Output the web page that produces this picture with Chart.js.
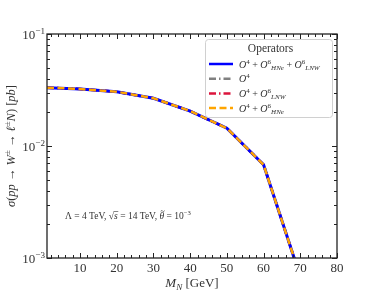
<!DOCTYPE html>
<html>
<head>
<meta charset="utf-8">
<script src="https://cdn.jsdelivr.net/npm/chart.js@4.4.1/dist/chart.umd.min.js"></script>
<style>
  html, body { margin: 0; padding: 0; background: #fff; }
  #wrap { width: 374px; height: 291px; }
</style>
</head>
<body>
<div id="wrap"><canvas id="xsecChart" width="374" height="291"></canvas></div>
<script>
// masses (GeV) and cross sections (pb)
const massN = [1, 10, 20, 30, 40, 50, 60, 70];
const sigmaFull = [0.0332, 0.0323, 0.0305, 0.0267, 0.0205, 0.0144, 0.0068, 0.00068];
const sigmaO4 = [0.0332, 0.0323, 0.0305, 0.0267, 0.0205, 0.0144, 0.0068, 0.00068];
const sigmaLNW = [0.0332, 0.0323, 0.0305, 0.0267, 0.0205, 0.0144, 0.0068, 0.00068];
const sigmaHNe = [0.0332, 0.0323, 0.0305, 0.0267, 0.0205, 0.0144, 0.0068, 0.00068];
const xTicks = [10, 20, 30, 40, 50, 60, 70, 80];
const yTicks = [0.001, 0.01, 0.1];
const yTickExp = ['−3', '−2', '−1'];

const SERIF = '"Liberation Serif", "DejaVu Serif", serif';
const TXT = '#333';

// draw text made of pieces: [text, kind], kind = r | i | sup | supi | sub | subi
function fontFor(kind, size) {
    const small = kind.startsWith('sup') || kind.startsWith('sub');
    const it = kind === 'i' || kind === 'supi' || kind === 'subi';
    return (it ? 'italic ' : '') + (small ? size * 0.7 : size) + 'px ' + SERIF;
}
function richWidth(ctx, parts, size) {
    let w = 0;
    parts.forEach(p => {
        ctx.font = fontFor(p[1], size);
        w += ctx.measureText(p[0]).width;
    });
    return w;
}
function drawRich(ctx, parts, x, y, size, align) {
    let w = richWidth(ctx, parts, size);
    let cx = align === 'center' ? x - w / 2 : (align === 'right' ? x - w : x);
    ctx.textAlign = 'left';
    ctx.textBaseline = 'alphabetic';
    const pos = [];
    parts.forEach(p => {
        ctx.font = fontFor(p[1], size);
        let dy = 0;
        if (p[1].startsWith('sup')) dy = -size * 0.38;
        if (p[1].startsWith('sub')) dy = size * 0.22;
        ctx.fillText(p[0], cx, y + dy);
        const pw = ctx.measureText(p[0]).width;
        pos.push([cx, pw]);
        cx += pw;
    });
    return pos;
}

const legendItems = [
    { color: '#0000ff', dash: [], parts: [['O', 'i'], ['4', 'sup'], [' + ', 'r'], ['O', 'i'], ['6', 'sup'], ['HNe', 'subi'], [' + ', 'r'], ['O', 'i'], ['6', 'sup'], ['LNW', 'subi']] },
    { color: '#808080', dash: [7, 3, 1.5, 3], parts: [['O', 'i'], ['4', 'sup']] },
    { color: '#dc143c', dash: [7, 3, 1.5, 3], parts: [['O', 'i'], ['4', 'sup'], [' + ', 'r'], ['O', 'i'], ['6', 'sup'], ['LNW', 'subi']] },
    { color: '#ffa500', dash: [7, 3.5], parts: [['O', 'i'], ['4', 'sup'], [' + ', 'r'], ['O', 'i'], ['6', 'sup'], ['HNe', 'subi']] }
];

const decorPlugin = {
    id: 'decor',
    afterDraw(chart) {
        const ctx = chart.ctx;
        const a = chart.chartArea;
        const xs = chart.scales.x, ys = chart.scales.y;
        ctx.save();
        ctx.strokeStyle = '#222';
        ctx.lineWidth = 1.3;
        ctx.strokeRect(a.left, a.top, a.right - a.left, a.bottom - a.top);

        // inward ticks, mirrored on all sides
        ctx.lineWidth = 1;
        ctx.beginPath();
        for (let v = 2; v <= 80; v += 2) {
            const px = Math.round(xs.getPixelForValue(v)) + 0.5;
            const len = v % 10 === 0 ? 5 : 3;
            ctx.moveTo(px, a.bottom); ctx.lineTo(px, a.bottom - len);
            ctx.moveTo(px, a.top); ctx.lineTo(px, a.top + len);
        }
        [0.001, 0.01].forEach(dec => {
            for (let m = 1; m <= 10; m++) {
                const v = dec * m;
                const py = Math.round(ys.getPixelForValue(v)) + 0.5;
                const len = (m === 1 || m === 10) ? 5 : 3;
                ctx.moveTo(a.left, py); ctx.lineTo(a.left + len, py);
                ctx.moveTo(a.right, py); ctx.lineTo(a.right - len, py);
            }
        });
        ctx.stroke();

        // y tick labels 10^n
        ctx.fillStyle = TXT;
        yTicks.forEach((v, i) => {
            const py = ys.getPixelForValue(v);
            drawRich(ctx, [['10', 'r'], [yTickExp[i], 'sup']], a.left - 2, py + 4.5, 13, 'right');
        });

        // axis titles
        drawRich(ctx, [['M', 'i'], ['N', 'subi'], [' [GeV]', 'r']], (a.left + a.right) / 2, 287, 13, 'center');
        ctx.save();
        ctx.translate(15, (a.top + a.bottom) / 2);
        ctx.rotate(-Math.PI / 2);
        drawRich(ctx, [['σ', 'i'], ['(', 'r'], ['pp', 'i'], [' → ', 'r'], ['W', 'i'], ['±', 'sup'], [' → ', 'r'], ['ℓ', 'i'], ['±', 'sup'], ['N', 'i'], [') [', 'r'], ['pb', 'i'], [']', 'r']], 0, 0, 12.5, 'center');
        ctx.restore();

        // benchmark annotation
        const ann = [['Λ = 4 TeV, √', 'r'], ['s', 'i'], [' = 14 TeV, ', 'r'], ['θ', 'i'], [' = 10', 'r'], ['−3', 'sup']];
        const ap = drawRich(ctx, ann, 65, 219, 9.5, 'left');
        ctx.beginPath();
        ctx.lineWidth = 0.6;
        ctx.strokeStyle = TXT;
        ctx.moveTo(ap[1][0] - 0.5, 211.5); ctx.lineTo(ap[1][0] + ap[1][1] + 0.5, 211.5);
        ctx.stroke();
        ctx.font = fontFor('r', 8);
        ctx.textAlign = 'center';
        ctx.fillText('~', ap[3][0] + ap[3][1] / 2 + 0.8, 213.5);

        // legend box
        const bx = 205, by = 39, bw = 127, bh = 78;
        ctx.fillStyle = 'rgba(255,255,255,0.85)';
        ctx.strokeStyle = '#d0d0d0';
        ctx.lineWidth = 1;
        ctx.beginPath();
        ctx.roundRect(bx + 0.5, by + 0.5, bw, bh, 3);
        ctx.fill();
        ctx.stroke();
        ctx.fillStyle = TXT;
        drawRich(ctx, [['Operators', 'r']], bx + bw / 2 + 2, by + 13, 11.5, 'center');
        legendItems.forEach((it, i) => {
            const ry = by + 25 + i * 14.7;
            ctx.save();
            ctx.strokeStyle = it.color;
            ctx.lineWidth = 2.5;
            ctx.setLineDash(it.dash);
            ctx.beginPath();
            ctx.moveTo(bx + 4, ry); ctx.lineTo(bx + 28, ry);
            ctx.stroke();
            ctx.restore();
            ctx.fillStyle = TXT;
            drawRich(ctx, it.parts, bx + 34, ry + 3.5, 10, 'left');
        });
        ctx.restore();
    }
};

const lineDs = (label, data, color, dash, width, order) => ({
    label: label,
    data: massN.map((m, i) => ({ x: m, y: data[i] })),
    borderColor: color,
    borderWidth: width,
    borderDash: dash,
    pointRadius: 0,
    tension: 0,
    fill: false,
    order: order
});

new Chart(document.getElementById('xsecChart'), {
    type: 'line',
    data: {
        datasets: [
            lineDs('O4 + O6 HNe + O6 LNW', sigmaFull, '#0000ff', [], 3, 1),
            lineDs('O4', sigmaO4, '#808080', [7, 3, 1.5, 3], 2.5, 3),
            lineDs('O4 + O6 LNW', sigmaLNW, '#dc143c', [7, 3, 1.5, 3], 2.5, 2),
            lineDs('O4 + O6 HNe', sigmaHNe, '#ffa500', [7, 3.5], 2.5, 0)
        ]
    },
    options: {
        responsive: false,
        devicePixelRatio: 1,
        animation: false,
        layout: { padding: { left: 0, right: 37, top: 34, bottom: 0 } },
        plugins: { legend: { display: false }, tooltip: { enabled: false } },
        scales: {
            x: {
                type: 'linear',
                min: 1,
                max: 80,
                grid: { display: false, drawTicks: false },
                border: { display: false },
                afterBuildTicks: s => { s.ticks = xTicks.map(v => ({ value: v })); },
                afterFit: s => { s.height = 33; },
                ticks: { color: TXT, padding: 3, maxRotation: 0, font: { family: SERIF, size: 13 } }
            },
            y: {
                type: 'logarithmic',
                min: 0.001,
                max: 0.1,
                grid: { display: false, drawTicks: false },
                border: { display: false },
                afterBuildTicks: s => { s.ticks = yTicks.map(v => ({ value: v })); },
                afterFit: s => { s.width = 47; },
                ticks: { display: false }
            }
        }
    },
    plugins: [decorPlugin]
});
</script>
</body>
</html>
